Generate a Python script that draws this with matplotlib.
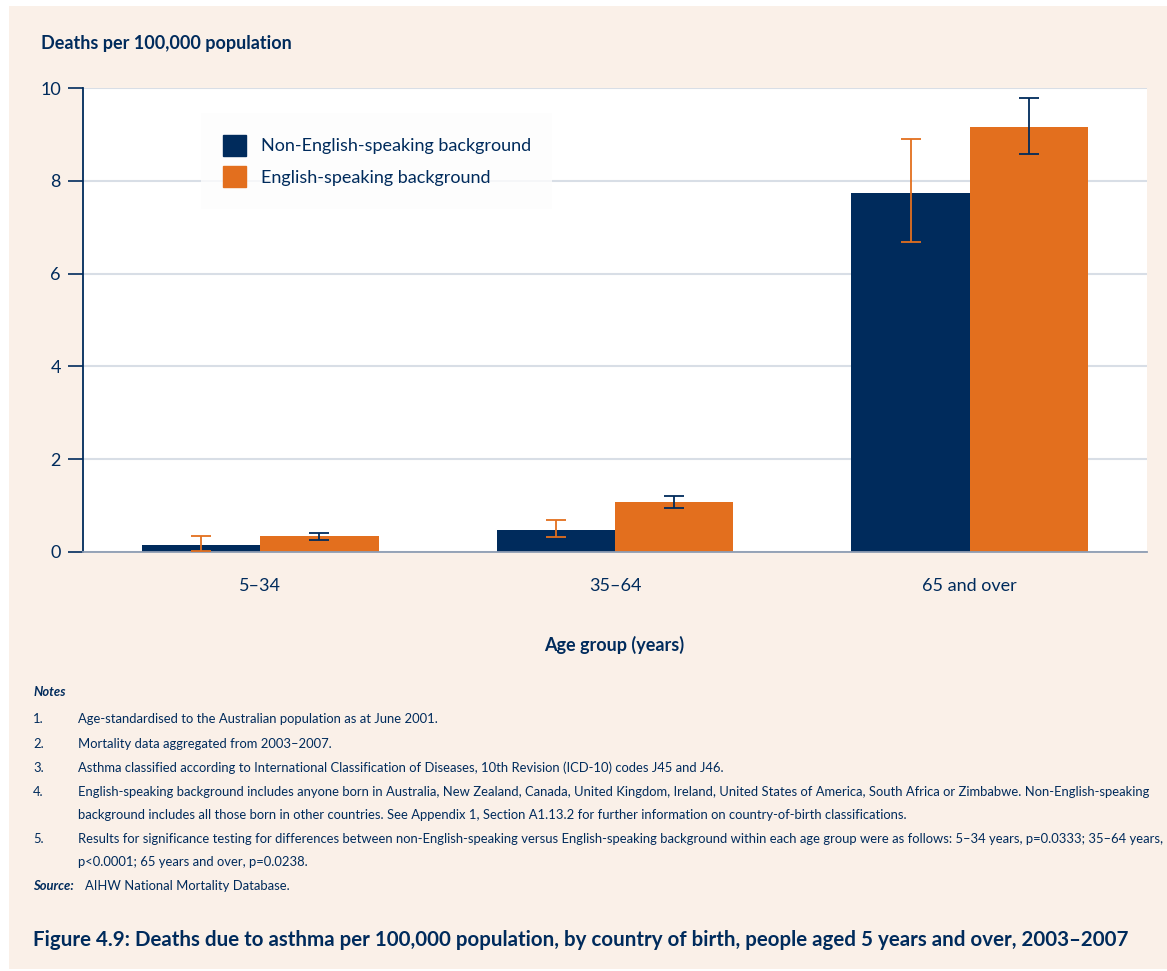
import matplotlib.pyplot as plt
from matplotlib.patches import Rectangle, Patch
import numpy as np

# values
age_groups = ["5\u201334", "35\u201364", "65 and over"]
nesb_rate = [0.15, 0.47, 7.74]
nesb_low = [0.03, 0.32, 6.68]
nesb_high = [0.34, 0.68, 8.90]
esb_rate = [0.34, 1.08, 9.16]
esb_low = [0.26, 0.94, 8.58]
esb_high = [0.42, 1.21, 9.78]

notes = [
    ("1.", "Age-standardised to the Australian population as at June 2001."),
    ("2.", "Mortality data aggregated from 2003\u20132007."),
    ("3.", "Asthma classified according to International Classification of Diseases, 10th Revision (ICD-10) codes J45 and J46."),
    ("4.", "English-speaking background includes anyone born in Australia, New Zealand, Canada, United Kingdom, Ireland, United States of America, South Africa or Zimbabwe. Non-English-speaking"),
    ("", "background includes all those born in other countries. See Appendix 1, Section A1.13.2 for further information on country-of-birth classifications."),
    ("5.", "Results for significance testing for differences between non-English-speaking versus English-speaking background within each age group were as follows: 5\u201334 years, p=0.0333; 35\u201364 years,"),
    ("", "p<0.0001; 65 years and over, p=0.0238."),
]

NAVY = "#002B5C"
ORANGE = "#E36F1E"
PEACH = "#FAF0E8"
GRID = "#D8DEE6"

plt.rcParams["font.family"] = ["Lato", "DejaVu Sans"]

W, H = 1167, 971
fig = plt.figure(figsize=(W / 100, H / 100), dpi=100)


def fx(px):
    return px / W


def fy(py):
    return 1 - py / H


# peach panel behind everything
fig.patches.append(Rectangle((fx(9), fy(969)), fx(W - 9), (969 - 6) / H,
                             transform=fig.transFigure, facecolor=PEACH,
                             edgecolor="none", zorder=-10))

ax = fig.add_axes([fx(83), fy(552), fx(1147 - 83), (552 - 88) / H])
ax.set_facecolor("white")

x = np.arange(len(age_groups))
w = 1 / 3
nesb_err = [np.array(nesb_rate) - np.array(nesb_low), np.array(nesb_high) - np.array(nesb_rate)]
esb_err = [np.array(esb_rate) - np.array(esb_low), np.array(esb_high) - np.array(esb_rate)]

ax.bar(x - w / 2, nesb_rate, w, color=NAVY, zorder=2)
ax.bar(x + w / 2, esb_rate, w, color=ORANGE, zorder=2)
ax.errorbar(x - w / 2, nesb_rate, yerr=nesb_err, fmt="none", ecolor=ORANGE,
            elinewidth=1.3, capsize=7, capthick=1.3, zorder=3)
ax.errorbar(x + w / 2, esb_rate, yerr=esb_err, fmt="none", ecolor=NAVY,
            elinewidth=1.3, capsize=7, capthick=1.3, zorder=3)

ax.set_xlim(-0.5, 2.5)
ax.set_ylim(0, 10)
ax.set_yticks([0, 2, 4, 6, 8, 10])
ax.yaxis.grid(True, color=GRID, linewidth=1.5, zorder=0)
ax.set_axisbelow(True)
ax.set_xticks(x)
ax.set_xticklabels(age_groups)
ax.tick_params(axis="x", length=0, pad=19, labelsize=13, labelcolor=NAVY)
ax.tick_params(axis="y", length=11, width=1.2, color=NAVY, pad=5,
               labelsize=13, labelcolor=NAVY)
for s in ["top", "right"]:
    ax.spines[s].set_visible(False)
ax.spines["left"].set_color(NAVY)
ax.spines["left"].set_linewidth(1.3)
ax.spines["bottom"].set_color("#8E9DB3")
ax.spines["bottom"].set_linewidth(1.3)

leg = ax.legend(handles=[Patch(color=NAVY, label="Non-English-speaking background"),
                         Patch(color=ORANGE, label="English-speaking background")],
                loc="upper left", bbox_to_anchor=((201 - 83) / 1064, (552 - 113) / 464),
                frameon=True, fancybox=False, fontsize=13, handlelength=1.3,
                handleheight=1.4, handletextpad=0.8, labelspacing=0.6,
                borderpad=1.2, borderaxespad=0)
leg.get_frame().set_facecolor("#FDFDFD")
leg.get_frame().set_edgecolor("none")
for t in leg.get_texts():
    t.set_color(NAVY)

fig.text(fx(41), fy(43), "Deaths per 100,000 population", fontsize=13,
         fontweight="bold", color=NAVY, va="center", ha="left")
fig.text(fx(614), fy(645), "Age group (years)", fontsize=13,
         fontweight="bold", color=NAVY, va="center", ha="center")

NS = 9.4
fig.text(fx(33), fy(692), "Notes", fontsize=NS, fontweight="bold",
         style="italic", color=NAVY, va="center")
ys = [719, 744, 768, 792, 815, 839, 862]
for (num, line), yy in zip(notes, ys):
    if num:
        fig.text(fx(33), fy(yy), num, fontsize=NS, color=NAVY, va="center")
    fig.text(fx(78), fy(yy), line, fontsize=NS, color=NAVY, va="center")
fig.text(fx(33), fy(886), "Source:", fontsize=NS, fontweight="bold",
         style="italic", color=NAVY, va="center")
fig.text(fx(85), fy(886), "AIHW National Mortality Database.", fontsize=NS,
         color=NAVY, va="center")

fig.text(fx(33), fy(940), "Figure 4.9: Deaths due to asthma per 100,000 population, "
         "by country of birth, people aged 5 years and over, 2003\u20132007",
         fontsize=14.8, fontweight="bold", color=NAVY, va="center")

fig.savefig("out.png", dpi=100, facecolor="white")
